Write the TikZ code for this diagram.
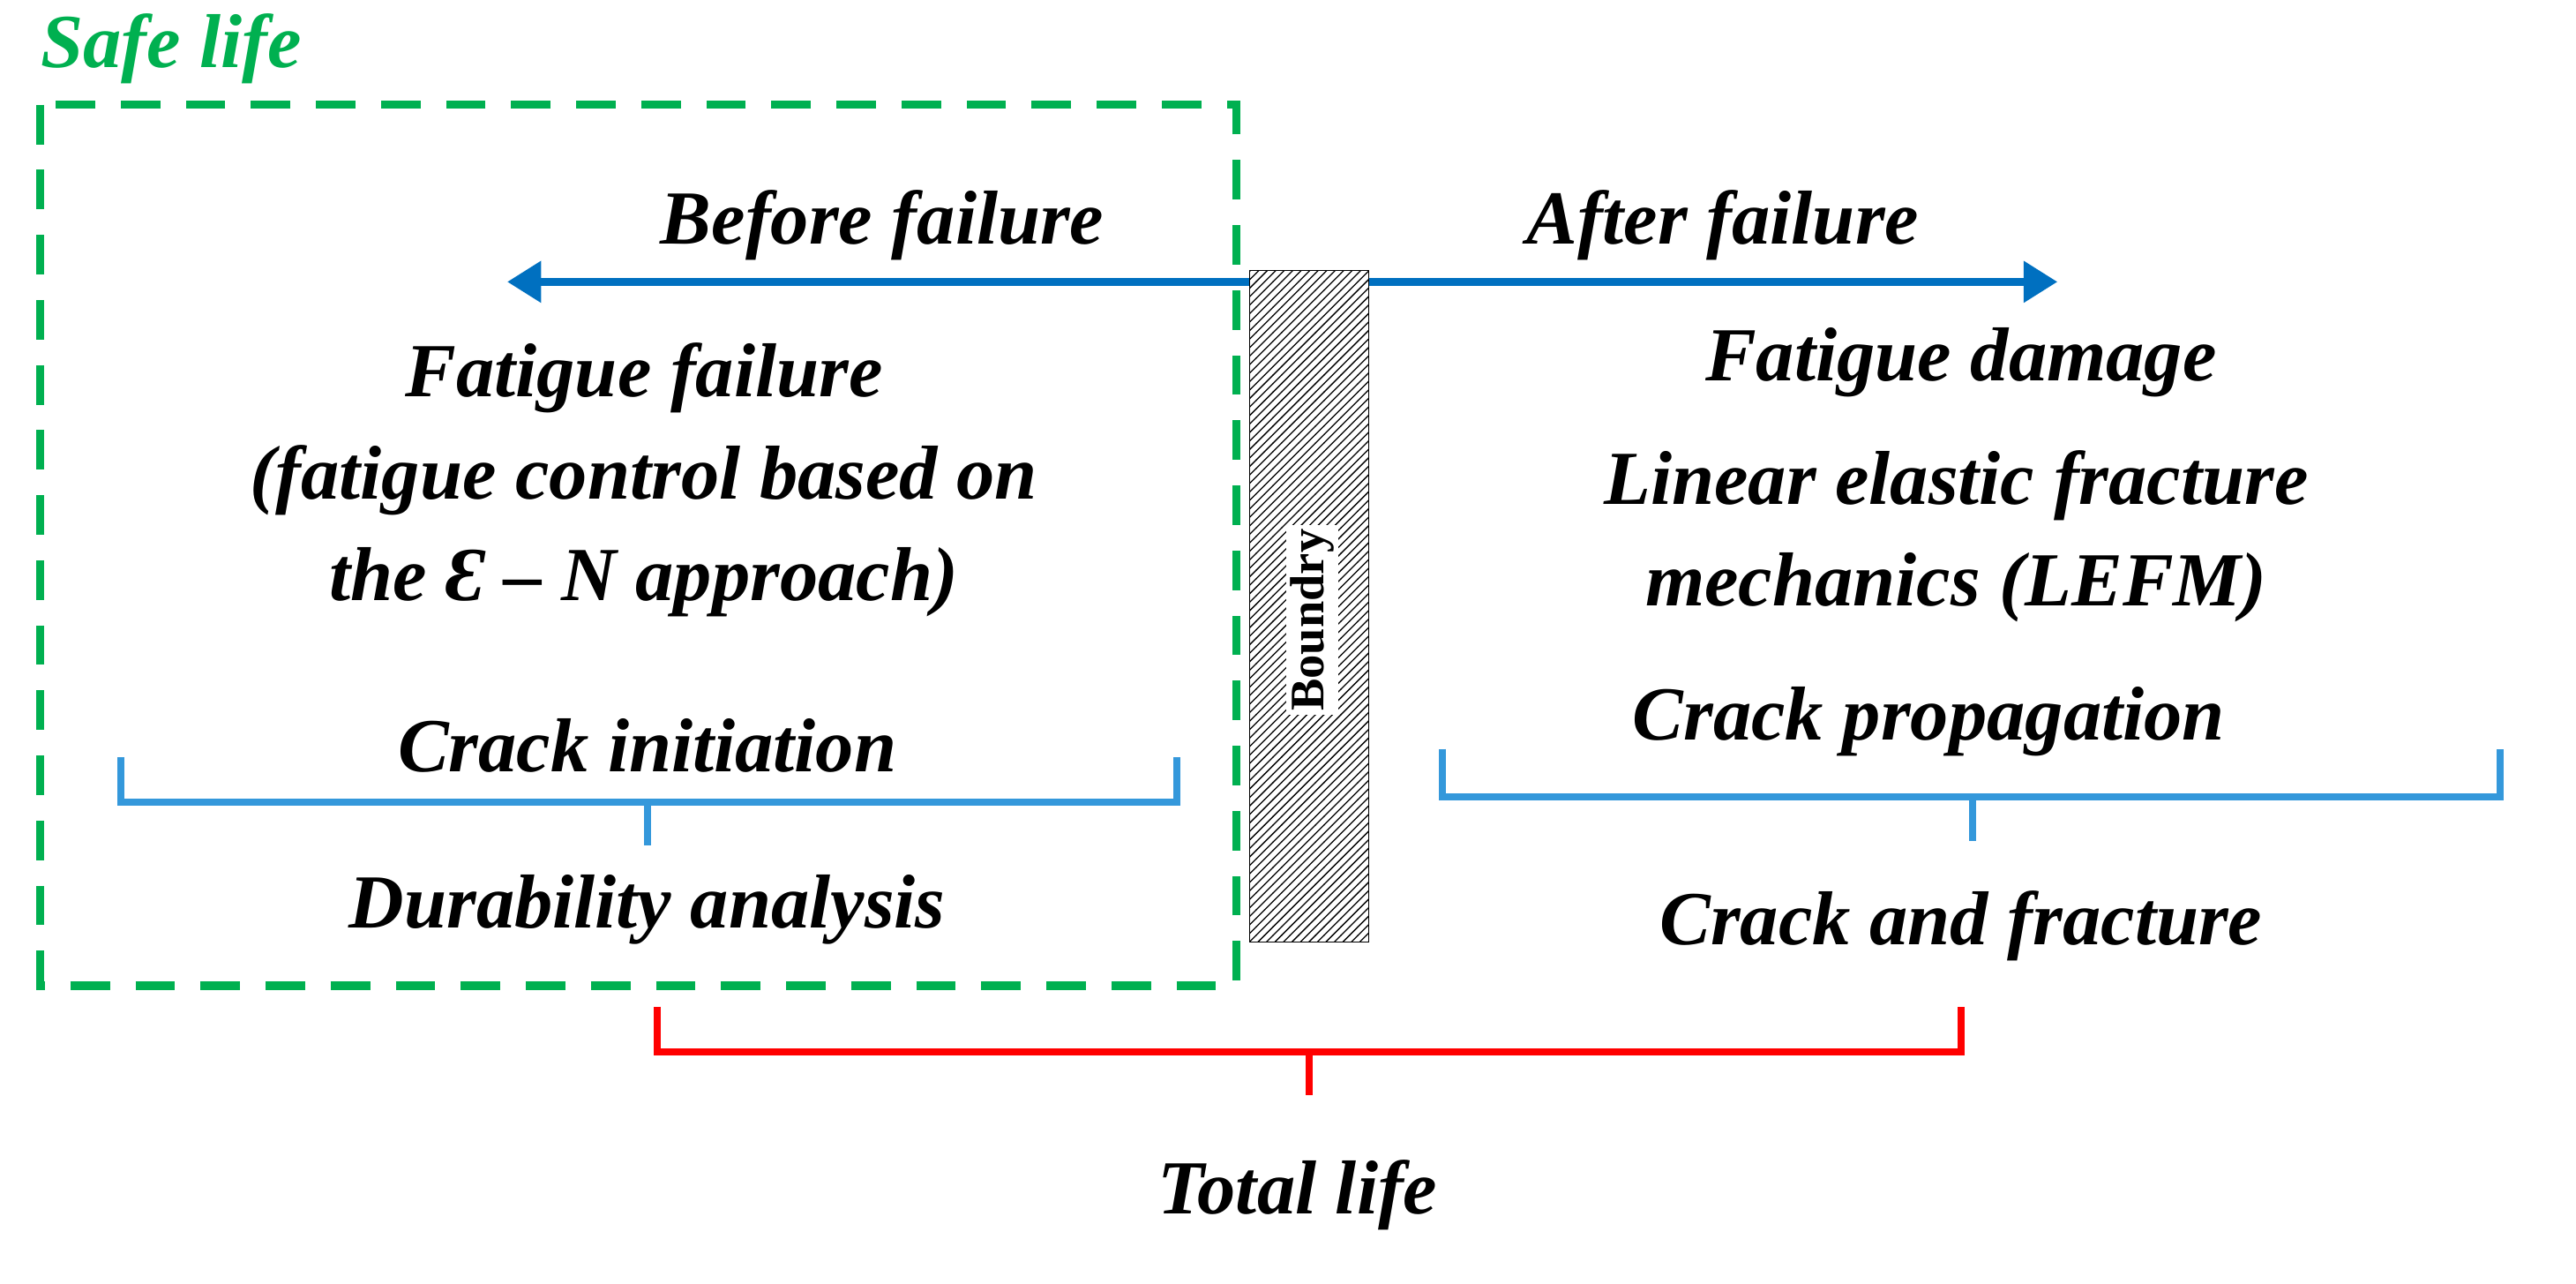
\documentclass[tikz,border=0pt]{standalone}
\usepackage{fontspec}
\setmainfont{Liberation Serif}
\usetikzlibrary{patterns,arrows.meta}
\definecolor{sgreen}{RGB}{0,176,80}
\definecolor{ablue}{RGB}{0,112,192}
\definecolor{lblue}{RGB}{52,152,219}
\begin{document}
\begin{tikzpicture}[x=0.02cm,y=-0.02cm,
  t/.style={font=\fontsize{27}{32}\selectfont\bfseries\itshape,align=center,inner sep=0},
  br/.style={line width=2.5pt}]
\useasboundingbox (0,0) rectangle (1600,797);
\node[t,text=sgreen,anchor=west] (safe) at (25,30) {Safe life};
\draw[sgreen,line width=3pt,dash pattern=on 14pt off 9pt] (25,65) rectangle (768,612);
\node[draw=black,pattern=north east lines,minimum width=74*0.02cm,minimum height=417*0.02cm,inner sep=0] (bd) at (813,376.5) {};
\node[fill=white,rotate=90,font=\fontsize{17}{19}\selectfont\bfseries,inner sep=1.5pt] (bl) at (815,385) {Boundry};
\coordinate (al) at (315,175); \coordinate (ar) at (1278,175);
\draw[ablue,line width=3pt,-{Triangle[length=12pt,width=14pt]}] (bd.north west|-al) -- (al);
\draw[ablue,line width=3pt,-{Triangle[length=12pt,width=14pt]}] (bd.north east|-ar) -- (ar);
\node[t] (bf) at (548,140) {Before failure};
\node[t] (af) at (1070,140) {After failure};
\node[t] (ff) at (400,298) {Fatigue failure\\[4pt](fatigue control based on\\[4pt]the Ɛ – N approach)};
\node[t] (fd) at (1218,225) {Fatigue damage};
\node[t] (le) at (1215,333) {Linear elastic fracture\\[4pt]mechanics (LEFM)};
\node[t] (ci) at (402,463) {Crack initiation};
\node[t] (cp) at (1198,448) {Crack propagation};
\node[t] (da) at (402,565) {Durability analysis};
\node[t] (cf) at (1218,575) {Crack and fracture};
\node[t] (tl) at (806,742) {Total life};
\draw[lblue,br] (75,470) -- (75,498) -- (731,498) -- (731,470);
\draw[lblue,br] (402,498) -- (402,525);
\draw[lblue,br] (896,465) -- (896,495) -- (1553,495) -- (1553,465);
\draw[lblue,br] (1225,495) -- (1225,522);
\draw[red,br] (408,625) -- (408,653) -- (1218,653) -- (1218,625);
\draw[red,br] (813,653) -- (813,680);
\end{tikzpicture}
\end{document}
